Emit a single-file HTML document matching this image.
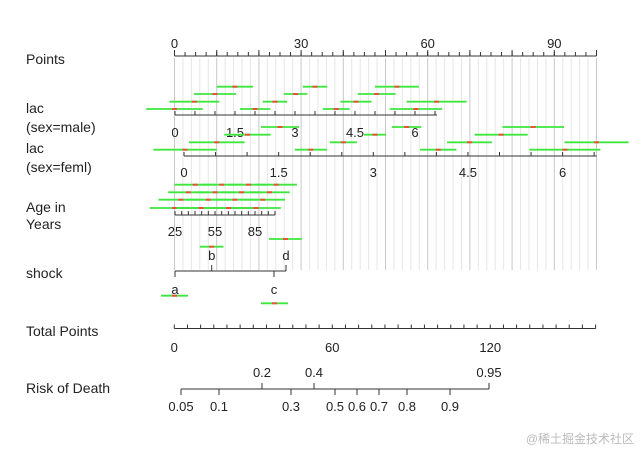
<!DOCTYPE html>
<html><head><meta charset="utf-8"><style>
body{margin:0;background:#fff}
svg{display:block;font-family:"Liberation Sans",Arial,sans-serif}
text{fill:#222}
</style></head><body>
<svg id="c" width="640" height="451" viewBox="0 0 640 451" xmlns="http://www.w3.org/2000/svg"></svg>
<script>
// ---- data ----
const rowLabels=[["Points",64],["lac",113],["(sex=male)",132],["lac",153],["(sex=feml)",172],["Age in",212],["Years",229],["shock",278],["Total Points",336],["Risk of Death",393]];
const pointTicks=[0,30,60,90];
const lacMaleTicks=[0,1.5,3,4.5,6];
const lacFemlTicks=[0,1.5,3,4.5,6];
const ageTicks=[25,55,85];
const totalTicks=[0,60,120];
const riskBelow=[0.05,0.1,0.3,0.5,0.6,0.7,0.8,0.9];
const riskBelowX=[181,219,291,335,357,379,407,450];
const riskAbove=[0.2,0.4,0.95];
const riskAboveX=[262,314,489];
// CI segments: y row, centers (points), half-widths (points)
const ciRowsY=[86.7,94,101.7,109,127,134.7,142.3,149.7,184.7,192.3,199.7,208,239,246.7,295.7,303.3];
const ciCenters=[[14.3,33.3,52.7],[9.6,28.7,47.9],[4.7,23.8,43.0,62.1],[0,19.1,38.3,57.2],[25,55,85],[17.3,47.5,77.4],[10,40,69.9,100],[2.5,32.3,62.5,92.5],[4.9,11.2,17.5,24.1],[3.3,9.6,15.9,22.5],[1.5,8.0,14.3,20.9],[0,6.3,12.8,19.3],[26.3],[8.8],[0],[23.7]];
const ciHalf=[[4.3,2.9,5.2],[5.0,2.8,4.5],[5.9,2.9,3.7,7.1],[6.7,3.6,3.2,6.2],[4.5,3.5,7.3],[5.5,2.6,6.3],[6.6,3.2,5.3,7.6],[7.5,3.8,4.3,8.4],[4.9,4.9,4.9,4.9],[4.8,4.8,4.8,4.8],[5.3,5.3,5.3,5.3],[5.9,5.9,5.9,5.9],[3.9],[2.8],[3.2],[3.2]];
// ---- scales ----
const P=v=>174.5+v*4.22;
const LM=v=>175+v*40;
const LF=v=>184+v*63.1;
const AG=v=>175+(v-25)*4/3;
const TP=v=>174.3+v*2.633;
const svg=document.getElementById('c');
const NS='http://www.w3.org/2000/svg';
function el(t,a,p){const e=document.createElementNS(NS,t);for(const k in a)e.setAttribute(k,a[k]);(p||svg).appendChild(e);return e;}
function line(x1,y1,x2,y2,st,w,g){return el('line',{x1,y1,x2,y2,stroke:st,'stroke-width':w||1},g);}
function txt(s,x,y,anchor,size,g){const t=el('text',{x,y,'text-anchor':anchor||'middle','font-size':size||13},g);t.textContent=s;return t;}
// grid
const grid=el('g',{});


for(let v=0;v<=100;v+=2){const x=P(v);line(x,58,x,270,v%10==0?'#c8c8c8':'#e6e6e6',1,grid);}
// labels
for(const [s,y] of rowLabels){const t=txt(s,26,y,'start',14);

}
function axis(name,y,x0,x1,tickXs,minorXs,up){const g=el('g',{});


line(x0,y,x1,y,'#333',1,g);
for(const x of minorXs)line(x,y,x,y+(up?-4:4),'#333',1,g);
for(const x of tickXs)line(x,y,x,y+(up?-6:6),'#333',1,g);return g;}
// points axis
let mn=[];for(let v=0;v<=100;v+=2.5)mn.push(P(v));
let g=axis('points-axis',56,P(0),P(100),pointTicks.map(P).concat([10,20,40,50,70,80,100].map(P)),mn,true);
pointTicks.forEach(v=>txt(String(v),P(v),48,'middle',13,g));
// lac male
mn=[];for(let v=0;v<=6.5;v+=0.5)mn.push(LM(v));
g=axis('lac-male-axis',115,LM(0),LM(6.55),[],mn,true);
lacMaleTicks.forEach(v=>txt(String(v),LM(v),137,'middle',13,g));
// lac feml
mn=[];for(let v=0;v<=6.5;v+=0.5)mn.push(LF(v));
g=axis('lac-feml-axis',156,LF(0),LF(6.54),[],mn,true);
lacFemlTicks.forEach(v=>txt(String(v),LF(v),177,'middle',13,g));
// age
mn=[];for(let v=25;v<=100;v+=5)mn.push(AG(v));
g=axis('age-axis',215,AG(25),AG(100),[],mn,true);
ageTicks.forEach(v=>txt(String(v),AG(v),236,'middle',13,g));
// shock
g=el('g',{});


line(175,271,286,271,'#333',1,g);
line(175,271,175,277,'#333',1,g);line(274,271,274,277,'#333',1,g);
line(211.7,271,211.7,265,'#333',1,g);line(286,271,286,265,'#333',1,g);
txt('a',175,294,'middle',13,g);txt('c',274,294,'middle',13,g);
txt('b',211.7,260,'middle',13,g);txt('d',286,260,'middle',13,g);
// total points
mn=[];for(let v=0;v<=160;v+=5)mn.push(TP(v));
g=axis('total-points-axis',328.5,TP(0),TP(160),[],mn,true);
totalTicks.forEach(v=>txt(String(v),TP(v),352,'middle',13,g));
// risk
g=el('g',{});


line(181,389,489,389,'#333',1,g);
riskBelow.forEach((v,i)=>{line(riskBelowX[i],389,riskBelowX[i],395,'#333',1,g);txt(String(v),riskBelowX[i],411,'middle',13,g);});
riskAbove.forEach((v,i)=>{line(riskAboveX[i],389,riskAboveX[i],383,'#333',1,g);txt(String(v),riskAboveX[i],377,'middle',13,g);});
// CI bars
const ci=el('g',{});


ciRowsY.forEach((y,r)=>{ciCenters[r].forEach((c,i)=>{const h=ciHalf[r][i];
const l=line(P(c-h),y,P(c+h),y,'#3ee63e',1.8,ci);


const d=line(P(c)-2.5,y,P(c)+2.5,y,'#e85040',2,ci);

});});
const wm=txt('@稀土掘金技术社区',634,443,'end',12);


wm.setAttribute('style','fill:#bbb;font-family:"Liberation Sans","Noto Sans CJK SC",sans-serif');
</script>
</body></html>
